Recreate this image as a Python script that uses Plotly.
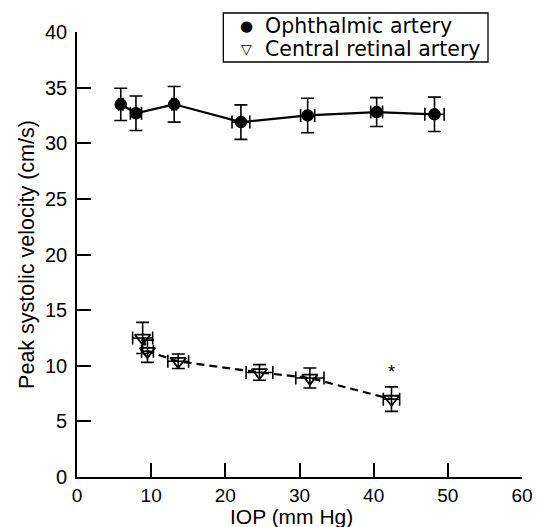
import plotly.graph_objects as go

# Ophthalmic artery
oa_iop = [5.9, 7.95, 13.1, 22.1, 31.1, 40.4, 48.2]
oa_iop_err = [0.3, 0.75, 0.3, 1.2, 0.95, 0.8, 1.3]
oa_psv = [33.5, 32.7, 33.5, 31.9, 32.5, 32.8, 32.6]
oa_psv_err = [1.45, 1.55, 1.6, 1.55, 1.55, 1.3, 1.55]

# Central retinal artery
cra_iop = [8.85, 9.5, 13.65, 24.6, 31.4, 42.4]
cra_iop_err = [1.35, 0.8, 1.4, 1.8, 1.9, 1.1]
cra_psv = [12.5, 11.3, 10.4, 9.4, 8.9, 7.0]
cra_psv_err = [1.4, 1.0, 0.65, 0.7, 0.9, 1.1]

sig_x = [42.4]
sig_y = [9.4]

series_names = ["Ophthalmic artery", "Central retinal artery"]
legend_glyphs = ["\u25CF", "\u25BD"]

x_ticks = [0, 10, 20, 30, 40, 50, 60]
y_ticks = [0, 5, 10, 15, 20, 25, 30, 35, 40]

x_title = "IOP (mm Hg)"
y_title = "Peak systolic velocity (cm/s)"

FONT = "Liberation Sans, Arial, sans-serif"
LEG_FONT = "DejaVu Sans, Liberation Sans, sans-serif"

fig = go.Figure()

fig.add_trace(go.Scatter(
    x=oa_iop, y=oa_psv, mode="lines+markers", name=series_names[0], showlegend=False,
    line=dict(color="black", width=2.2),
    marker=dict(symbol="circle", size=12.5, color="black"),
    error_y=dict(type="data", array=oa_psv_err, color="black", thickness=1.6, width=6.5),
    error_x=dict(type="data", array=oa_iop_err, color="black", thickness=1.6, width=6.5),
))

fig.add_trace(go.Scatter(
    x=cra_iop, y=cra_psv, mode="lines+markers", name=series_names[1], showlegend=False,
    line=dict(color="black", width=2.2, dash="8px,5px"),
    marker=dict(symbol="triangle-down-open", size=13.5, color="black", line=dict(width=1.8, color="black")),
    error_y=dict(type="data", array=cra_psv_err, color="black", thickness=1.6, width=6.5),
    error_x=dict(type="data", array=cra_iop_err, color="black", thickness=1.6, width=6.5),
))

for xs, ys in zip(sig_x, sig_y):
    fig.add_annotation(x=xs, y=ys, text="*", showarrow=False,
                       font=dict(family=FONT, size=18, color="black"))

# legend box (drawn as a shape + text rows, to keep the compact row spacing)
fig.add_shape(type="rect", xref="paper", yref="paper",
              x0=0.3288, x1=0.9236, y0=0.9326, y1=1.0427,
              line=dict(color="black", width=1.3), fillcolor="white", layer="above")
row_y = [1.0146, 0.9607]
glyph_sizes = [15, 14]
for name, glyph, gy, gs in zip(series_names, legend_glyphs, row_y, glyph_sizes):
    fig.add_annotation(xref="paper", yref="paper", x=0.3820, y=gy, text=glyph,
                       showarrow=False, xanchor="center", yanchor="middle",
                       font=dict(family=LEG_FONT, size=gs, color="black"))
    fig.add_annotation(xref="paper", yref="paper", x=0.4180, y=gy, text=name,
                       showarrow=False, xanchor="left", yanchor="middle",
                       font=dict(family=LEG_FONT, size=20.5, color="black"))

# x-axis title placed at the bottom edge, under the tick labels
fig.add_annotation(xref="paper", yref="paper", x=0.4831, y=-0.1169, text=x_title,
                   showarrow=False, xanchor="center", yanchor="bottom", borderpad=0,
                   font=dict(family=FONT, size=21, color="black"))

fig.update_layout(
    width=550, height=527,
    margin=dict(l=77, r=28, t=32, b=50),
    paper_bgcolor="white", plot_bgcolor="white",
    font=dict(family=FONT, size=20, color="black"),
    showlegend=False,
)

fig.update_xaxes(
    range=[0, 60], tickvals=x_ticks, showgrid=False, zeroline=False,
    showline=True, linecolor="black", linewidth=1.6,
    ticks="inside", ticklen=14, tickwidth=1.6, tickcolor="black",
    tickfont=dict(family=FONT, size=19, color="black"),
    automargin=False,
)
fig.update_yaxes(
    range=[0, 40], tickvals=y_ticks, showgrid=False, zeroline=False,
    showline=True, linecolor="black", linewidth=1.6,
    ticks="inside", ticklen=14, tickwidth=1.6, tickcolor="black",
    tickfont=dict(family=FONT, size=20, color="black"),
    ticklabelstandoff=4, automargin=False,
    title=dict(text=y_title, font=dict(family=FONT, size=21.5, color="black"), standoff=4),
)

fig.write_html("out.html")
